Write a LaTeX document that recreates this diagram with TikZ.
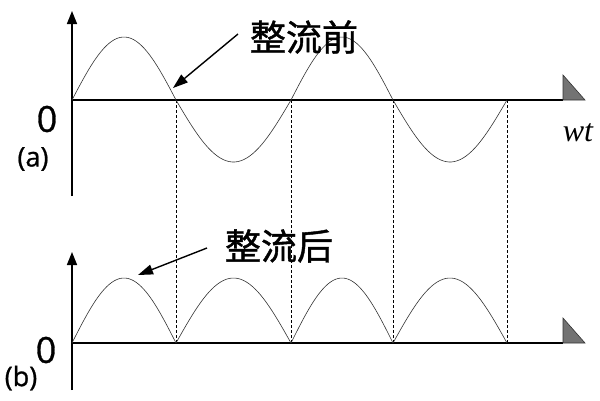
\documentclass[tikz,border=0pt]{standalone}
\usepackage{fontspec}
\setmainfont[FakeBold=0.8]{Open Sans}
\newfontfamily\cjk[FakeBold=1.2]{Noto Sans CJK SC}
\newfontfamily\serifit{Liberation Serif}
\usetikzlibrary{arrows.meta}
\begin{document}
\begin{tikzpicture}[x=1pt,y=-1pt,
  axisline/.style={line width=1.6pt},
  yaxis/.style={line width=1.6pt,-{Triangle[length=13pt,width=10pt]}},
  wave/.style={line width=0.6pt,black!80},
  guide/.style={dash pattern=on 3pt off 2pt,line width=0.9pt},
  pointer/.style={line width=1.4pt,-{Triangle[length=15pt,width=10pt]}},
  endmark/.style={fill=black!55,draw=black!80,line width=0.6pt},
  cjklabel/.style={font=\cjk\fontsize{36}{38}\selectfont,inner sep=0pt},
  zerolabel/.style={font=\fontsize{36}{40}\selectfont,inner sep=0pt},
  partlabel/.style={font=\fontsize{27}{30}\selectfont,inner sep=0pt}]
\useasboundingbox (0,0) rectangle (600,400);
% axes
\coordinate (oa) at (72,100);
\coordinate (ob) at (72,343);
\coordinate (atop) at (72,11);
\coordinate (abot) at (72,196);
\coordinate (btop) at (72,252);
\coordinate (bbot) at (72,390);
\coordinate (aend) at (563,100);
\coordinate (bend) at (563,343);
\draw[yaxis] (abot) -- (atop);
\draw[yaxis] (bbot) -- (btop);
\draw[axisline] (oa) -- (aend);
\draw[axisline] (ob) -- (bend);
\filldraw[endmark] (563,75) -- (563,100) -- (585,100) -- cycle;
\filldraw[endmark] (563,318) -- (563,343) -- (585,343) -- cycle;
% guide lines
\foreach \x in {176,291,393,507}{
  \coordinate (g\x a) at (\x,100);
  \coordinate (g\x b) at (\x,343);
  \draw[guide] (g\x a) -- (g\x b);
}
% wave (a)
\draw[wave] plot[domain=0:180,samples=40,smooth] ({72+\x/180*104},{100-63*sin(\x)});
\draw[wave] plot[domain=0:180,samples=40,smooth] ({176+\x/180*115},{100+62*sin(\x)});
\draw[wave] plot[domain=0:180,samples=40,smooth] ({291+\x/180*102},{100-63*sin(\x)});
\draw[wave] plot[domain=0:180,samples=40,smooth] ({393+\x/180*114},{100+62*sin(\x)});
% wave (b)
\draw[wave] plot[domain=0:180,samples=40,smooth] ({72+\x/180*104},{343-65*sin(\x)});
\draw[wave] plot[domain=0:180,samples=40,smooth] ({176+\x/180*115},{343-65*sin(\x)});
\draw[wave] plot[domain=0:180,samples=40,smooth] ({291+\x/180*102},{343-65*sin(\x)});
\draw[wave] plot[domain=0:180,samples=40,smooth] ({393+\x/180*114},{343-65*sin(\x)});
% labels
\node[zerolabel] (za) at (47,119) {0};
\node[partlabel] (pa) at (33,159) {(a)};
\node[zerolabel] (zb) at (46,350) {0};
\node[partlabel] (pb) at (21,378) {(b)};
\node[inner sep=0pt,font=\serifit\itshape\fontsize{32}{34}\selectfont] (wt) at (578,133) {wt};
\node[cjklabel] (before) at (304,37) {整流前};
\node[cjklabel] (after) at (279,246) {整流后};
\coordinate (pa1) at (238,34);
\coordinate (ta1) at (173,88);
\coordinate (pb1) at (207,248);
\coordinate (tb1) at (138,275);
\draw[pointer] (pa1) -- (ta1);
\draw[pointer] (pb1) -- (tb1);
\end{tikzpicture}
\end{document}
